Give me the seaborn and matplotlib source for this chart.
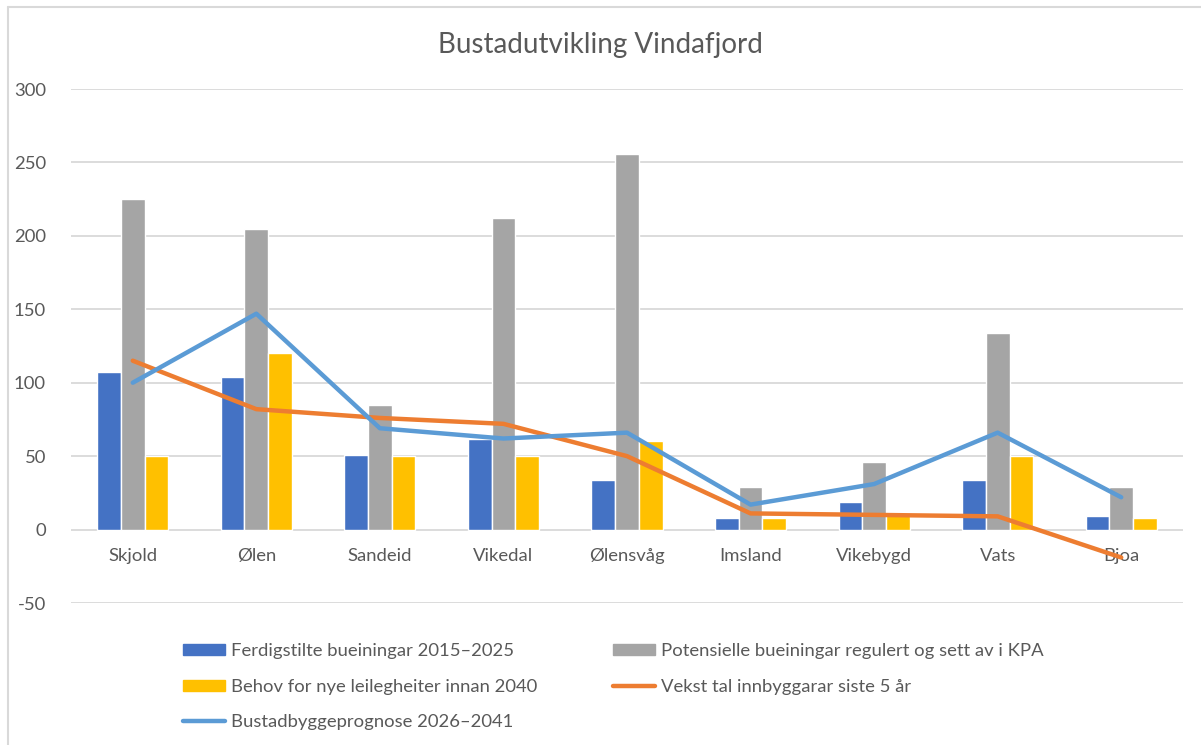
import pandas as pd
import matplotlib.pyplot as plt
import seaborn as sns
from matplotlib.patches import Patch
from matplotlib.lines import Line2D

# Data
places = ["Skjold", "Ølen", "Sandeid", "Vikedal", "Ølensvåg",
          "Imsland", "Vikebygd", "Vats", "Bjoa"]
ferdigstilte = [107, 104, 51, 62, 34, 8, 19, 34, 9]
potensielle = [225, 205, 85, 212, 256, 29, 46, 134, 29]
behov = [50, 120, 50, 50, 60, 8, 10, 50, 8]
vekst = [115, 82, 76, 72, 50, 11, 10, 9, -19]
prognose = [100, 147, 69, 62, 66, 17, 31, 66, 22]

bar_names = ["Ferdigstilte bueiningar 2015–2025",
             "Potensielle bueiningar regulert og sett av i KPA",
             "Behov for nye leilegheiter innan 2040"]
line_names = ["Vekst tal innbyggarar siste 5 år",
              "Bustadbyggeprognose 2026–2041"]

bar_colors = ["#4472C4", "#A5A5A5", "#FFC000"]
line_colors = ["#ED7D31", "#5B9BD5"]
text_color = "#595959"
grid_color = "#D9D9D9"


def build_bar_frame():
    """Long-form table for the grouped bars."""
    rows = []
    for name, vals in zip(bar_names, [ferdigstilte, potensielle, behov]):
        for place, v in zip(places, vals):
            rows.append({"stad": place, "serie": name, "verdi": v})
    return pd.DataFrame(rows)


def main():
    sns.set_style("white")
    plt.rcParams["font.family"] = ["Lato", "DejaVu Sans"]
    plt.rcParams["axes.unicode_minus"] = False

    fig = plt.figure(figsize=(12.01, 7.45), dpi=100)
    ax = fig.add_axes([71 / 1201, (745 - 603) / 745, 1112 / 1201, 514 / 745])

    df = build_bar_frame()
    sns.barplot(data=df, x="stad", y="verdi", hue="serie", order=places,
                hue_order=bar_names, palette=bar_colors, width=0.575,
                saturation=1, ax=ax, legend=False, zorder=2)

    line_df = pd.DataFrame({"stad": places, "vekst": vekst, "prognose": prognose})
    sns.lineplot(data=line_df, x="stad", y="vekst", color=line_colors[0],
                 lw=3.2, ax=ax, sort=False, zorder=4)
    sns.lineplot(data=line_df, x="stad", y="prognose", color=line_colors[1],
                 lw=3.2, ax=ax, sort=False, zorder=5)

    ax.set_ylim(-50, 300)
    ax.set_xlim(-0.5, len(places) - 0.5)
    ax.set_yticks(range(-50, 301, 50))
    ax.yaxis.grid(True, color=grid_color, lw=1.3, zorder=0)
    ax.set_axisbelow(True)
    for s in ax.spines.values():
        s.set_visible(False)
    ax.tick_params(axis="y", length=0, pad=18, labelsize=13.3, labelcolor=text_color)
    ax.tick_params(axis="x", length=0, labelbottom=False)
    ax.set_xlabel("")
    ax.set_ylabel("")

    # category labels sit just under the zero line, as in Excel
    for i, place in enumerate(places):
        ax.annotate(place, xy=(i, 0), xytext=(0, -19), textcoords="offset points",
                    ha="center", va="center", fontsize=13.3, color=text_color,
                    zorder=3)

    fig.text(0.5, 1 - 45 / 745, "Bustadutvikling Vindafjord", ha="center",
             va="center", fontsize=20, color=text_color)

    # chart frame (left and top edges are visible in the crop)
    fig.add_artist(Line2D([8 / 1201, 8 / 1201], [0, 1 - 7 / 745],
                          color=grid_color, lw=1.5))
    fig.add_artist(Line2D([8 / 1201, 1], [1 - 7 / 745, 1 - 7 / 745],
                          color=grid_color, lw=1.5))

    handles = [
        Patch(color=bar_colors[0], label=bar_names[0]),
        Patch(color=bar_colors[2], label=bar_names[2]),
        Line2D([], [], color=line_colors[1], lw=3.2, label=line_names[1]),
        Patch(color=bar_colors[1], label=bar_names[1]),
        Line2D([], [], color=line_colors[0], lw=3.2, label=line_names[0]),
    ]
    fig.legend(handles=handles, ncol=2, loc="upper left",
               bbox_to_anchor=(176 / 1201, 1 - 636 / 745), borderaxespad=0,
               frameon=False, fontsize=13.3, labelcolor=text_color,
               handlelength=2.27, handleheight=0.55, handletextpad=0.32,
               columnspacing=4.1, labelspacing=1.04)

    fig.savefig("out.png", dpi=100)


if __name__ == "__main__":
    main()
